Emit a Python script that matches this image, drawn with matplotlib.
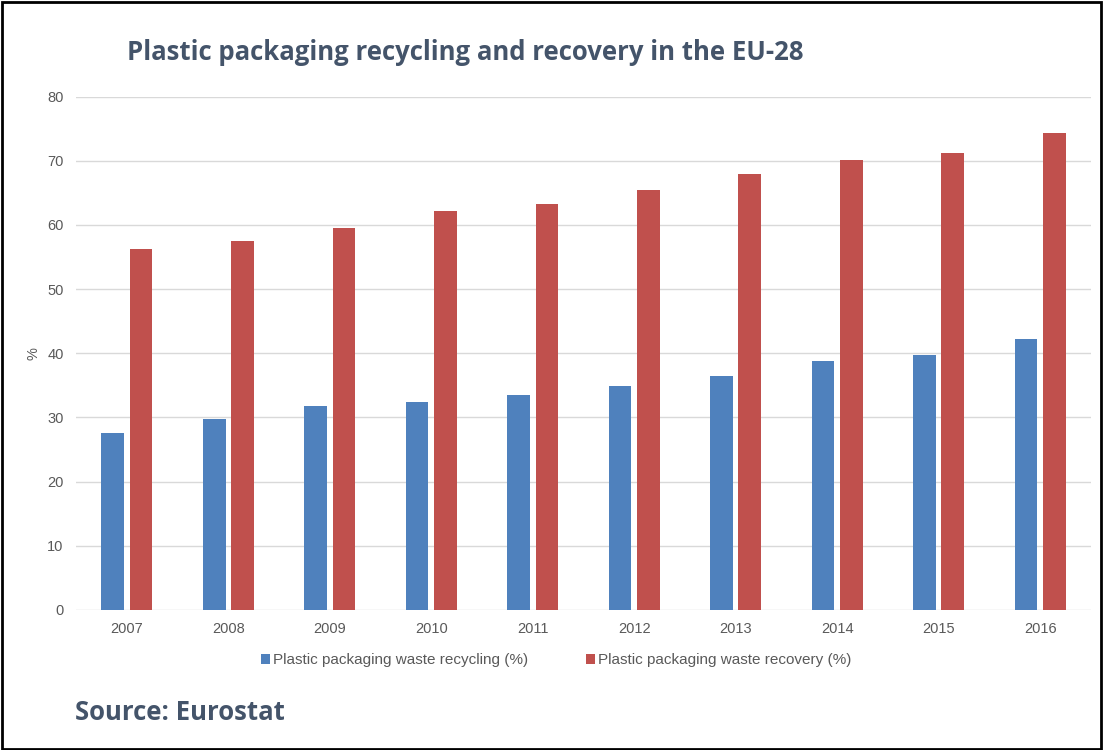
import numpy as np
import matplotlib.pyplot as plt
from matplotlib.patches import Rectangle

years = ["2007", "2008", "2009", "2010", "2011", "2012", "2013", "2014", "2015", "2016"]
recycling = [27.6, 29.8, 31.8, 32.4, 33.5, 34.9, 36.5, 38.8, 39.8, 42.3]
recovery = [56.3, 57.5, 59.6, 62.2, 63.3, 65.4, 68.0, 70.2, 71.3, 74.3]

BLUE = "#4F81BD"
RED = "#C0504D"
GREY_TEXT = "#595959"
TITLE_COLOR = "#44546A"

fig = plt.figure(figsize=(11.03, 7.5), dpi=100)
ax = fig.add_axes([0.069, 0.187, 0.92, 0.684])

x = np.arange(len(years))
w = 0.225
ax.bar(x - 0.14, recycling, width=w, color=BLUE, label="Plastic packaging waste recycling (%)", zorder=3)
ax.bar(x + 0.14, recovery, width=w, color=RED, label="Plastic packaging waste recovery (%)", zorder=3)

ax.set_xlim(-0.5, len(years) - 0.5)
ax.set_ylim(0, 80)
ax.set_yticks(range(0, 81, 10))
ax.set_xticks(x)
ax.set_xticklabels(years)
ax.grid(axis="y", color="#D9D9D9", linewidth=1, zorder=0)
for s in ax.spines.values():
    s.set_visible(False)
ax.tick_params(length=0, labelsize=10.5, labelcolor=GREY_TEXT, pad=9)
for lbl in ax.get_xticklabels() + ax.get_yticklabels():
    lbl.set_family("Liberation Sans")
ax.set_ylabel("%", fontsize=10.5, color=GREY_TEXT, family="Liberation Sans", labelpad=5)

leg = ax.legend(loc="upper center", bbox_to_anchor=(0.473, -0.058), ncol=2, frameon=False,
                handlelength=0.6, handleheight=0.6, handletextpad=0.2, columnspacing=3.8,
                prop={"family": "Liberation Sans", "size": 11})
for t in leg.get_texts():
    t.set_color(GREY_TEXT)

fig.text(127 / 1103, 1 - 52 / 750, "Plastic packaging recycling and recovery in the EU-28",
         fontsize=18.5, fontweight="bold", color=TITLE_COLOR, family="Open Sans",
         ha="left", va="center")
fig.text(75 / 1103, 1 - 713 / 750, "Source: Eurostat", fontsize=18.5, fontweight="bold",
         color=TITLE_COLOR, family="Open Sans", ha="left", va="center")

fig.patches.append(Rectangle((0.002, 0.002), 0.996, 0.996, transform=fig.transFigure,
                             fill=False, edgecolor="black", linewidth=2))

fig.savefig("out.png", dpi=100)
